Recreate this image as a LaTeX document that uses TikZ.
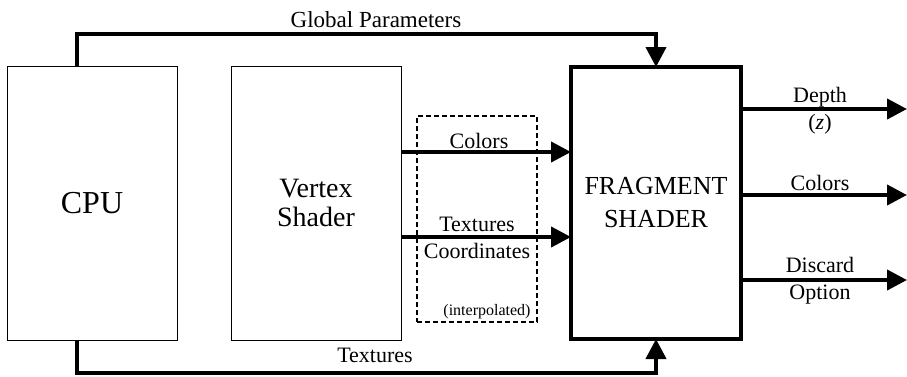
\documentclass[tikz,border=0pt]{standalone}
\usepackage{fontspec}
\setmainfont{Liberation Serif}
\usetikzlibrary{arrows.meta}
\begin{document}
\begin{tikzpicture}[x=1pt,y=-1pt,
  box/.style={draw, line width=1pt, inner sep=0pt, align=center},
  arr/.style={line width=4pt, -{Triangle[length=20pt,width=20pt]}},
  lbl/.style={inner sep=0pt, align=center, font=\fontsize{22}{27}\selectfont}]
\useasboundingbox (0,0) rectangle (907,376);
% boxes
\node[box, minimum width=170pt, minimum height=274pt, font=\fontsize{32}{36}\selectfont] (cpu) at (92,203) {CPU};
\node[box, minimum width=170pt, minimum height=274pt, font=\fontsize{28}{29}\selectfont] (vertex) at (316,203) {Vertex\\Shader};
\node[box, line width=1.3pt, dash pattern=on 5pt off 3pt, minimum width=120pt, minimum height=206pt] (interp) at (477,219) {};
\node[box, line width=4pt, outer sep=0pt, minimum width=170pt, minimum height=272pt, font=\fontsize{26}{33}\selectfont] (frag) at (656,203) {FRAGMENT\\SHADER};
% global parameters and textures buses
\coordinate (g1) at (77,34);
\coordinate (g2) at (656,34);
\coordinate (t1) at (77,373);
\coordinate (t2) at (656,373);
\draw[arr] (g1 |- cpu.north) -- (g1) -- (g2) -- (frag.north);
\draw[arr] (t1 |- cpu.south) -- (t1) -- (t2) -- (frag.south);
\node[lbl, font=\fontsize{23}{27}\selectfont] (glab) at (376,20) {Global Parameters};
\node[lbl] (tlab) at (375,355) {Textures};
% interpolated inputs
\draw[arr] ([yshift=51pt]vertex.east) -- ([yshift=51pt]frag.west);
\draw[arr] ([yshift=-34pt]vertex.east) -- ([yshift=-34pt]frag.west);
\node[lbl] (clab) at (479,141) {Colors};
\node[lbl] (tclab) at (477,238) {Textures\\Coordinates};
\node[inner sep=0pt, font=\fontsize{16}{18}\selectfont] (ilab) at (487,312) {(interpolated)};
% outputs
\coordinate (o1) at (907,109);
\coordinate (o2) at (907,195);
\coordinate (o3) at (907,280);
\draw[arr] (frag.east |- o1) -- (o1);
\draw[arr] (frag.east |- o2) -- (o2);
\draw[arr] (frag.east |- o3) -- (o3);
\node[lbl] (dlab) at (820,111) {Depth\\(\textit{z})};
\node[lbl] (oclab) at (820,183) {Colors};
\node[lbl] (dslab) at (820,281) {Discard\\Option};
\end{tikzpicture}
\end{document}
